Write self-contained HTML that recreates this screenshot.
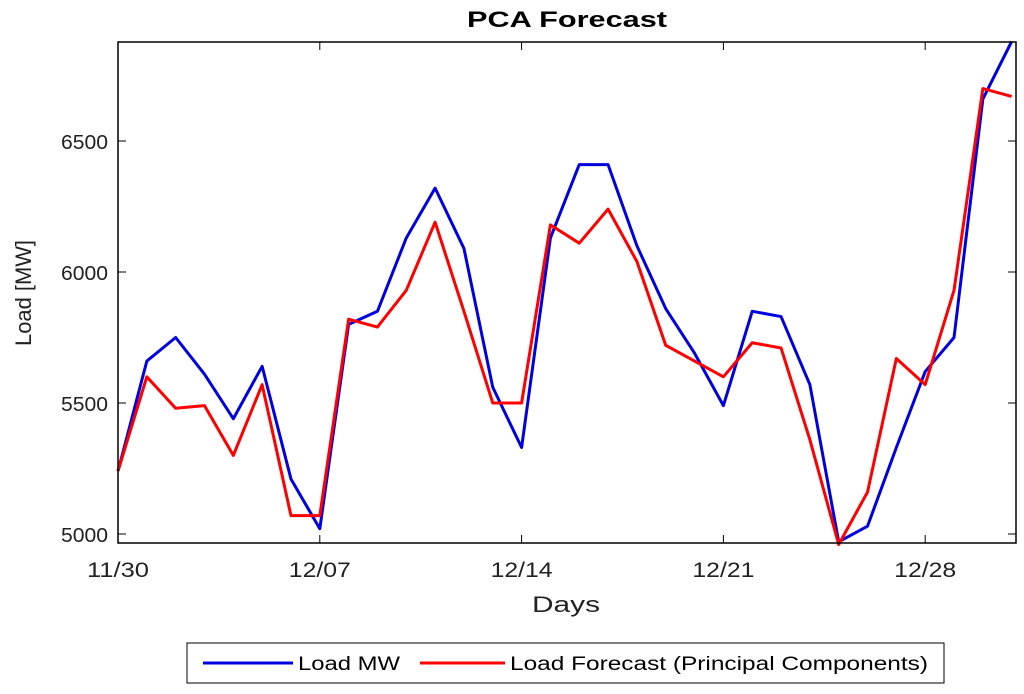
<!DOCTYPE html>
<html><head><meta charset="utf-8"><style>
body{margin:0;background:#fff;}
svg{display:block;font-family:"Liberation Sans",sans-serif;}
</style></head><body>
<svg id="chart" width="1024" height="694" viewBox="0 0 1024 694">
<text x="567" y="27" text-anchor="middle" font-size="22" font-weight="bold" textLength="200" lengthAdjust="spacingAndGlyphs">PCA Forecast</text>
<g id="grid"></g>
<g id="series"></g>
<rect x="118" y="42" width="898" height="501" fill="none" stroke="#000" stroke-width="1.5"/>
<text x="566" y="612" text-anchor="middle" font-size="22" fill="#222" textLength="68" lengthAdjust="spacingAndGlyphs">Days</text>
<text transform="translate(31,293) rotate(-90)" text-anchor="middle" font-size="22" fill="#222" textLength="106" lengthAdjust="spacingAndGlyphs">Load [MW]</text>
<g>
<rect x="187" y="643" width="757" height="40" fill="#fff" stroke="#000" stroke-width="1"/>
<line x1="203" y1="663" x2="293" y2="663" stroke="#0000e0" stroke-width="3"/>
<text x="298" y="670" font-size="19" textLength="102" lengthAdjust="spacingAndGlyphs">Load MW</text>
<line x1="420" y1="663" x2="505" y2="663" stroke="#ff0000" stroke-width="3"/>
<text x="510" y="670" font-size="19" textLength="418" lengthAdjust="spacingAndGlyphs">Load Forecast (Principal Components)</text>
</g>
</svg>
<script>
const xTickDays=[0,7,14,21,28];
const xTickLabels=["11/30","12/07","12/14","12/21","12/28"];
const yTicks=[5000,5500,6000,6500];
const loadMW=[5240,5660,5750,5610,5440,5640,5210,5020,5800,5850,6130,6320,6090,5560,5330,6130,6410,6410,6100,5860,5690,5490,5850,5830,5570,4970,5030,5330,5620,5750,6660,6880];
const forecast=[5240,5600,5480,5490,5300,5570,5070,5070,5820,5790,5930,6190,5850,5500,5500,6180,6110,6240,6040,5720,5660,5600,5730,5710,5360,4960,5160,5670,5570,5930,6700,6670];
const L=118,R=1016,T=42,B=543;
const x=d=>L+d*(R-L)/31.15;
const y=v=>141+(6500-v)*131/500;
const NS="http://www.w3.org/2000/svg";
const g=document.getElementById('grid'),s=document.getElementById('series');
function mk(tag,attrs,parent){const e=document.createElementNS(NS,tag);for(const k in attrs)e.setAttribute(k,attrs[k]);parent.appendChild(e);return e;}
xTickDays.forEach((d,i)=>{
 const t=mk('line',{x1:x(d),x2:x(d),y1:B,y2:B-8,stroke:'#000'},g);
 
 
 const t2=mk('line',{x1:x(d),x2:x(d),y1:T,y2:T+8,stroke:'#000'},g);
 
 
 const tx=mk('text',{x:x(d),y:577,'text-anchor':'middle','font-size':21,fill:'#222',textLength:62,lengthAdjust:'spacingAndGlyphs'},g);
 tx.textContent=xTickLabels[i];
 
 
});
yTicks.forEach(v=>{
 const t=mk('line',{x1:L,x2:L+8,y1:y(v),y2:y(v),stroke:'#000'},g);
 
 
 const t2=mk('line',{x1:R,x2:R-8,y1:y(v),y2:y(v),stroke:'#000'},g);
 
 
 const tx=mk('text',{x:108,y:y(v)+8,'text-anchor':'end','font-size':20,fill:'#222',textLength:47,lengthAdjust:'spacingAndGlyphs'},g);
 tx.textContent=v;
 
 
});
function line(data,color,name){
 const p=mk('polyline',{points:data.map((v,i)=>x(i)+','+y(v)).join(' '),fill:'none',stroke:color,'stroke-width':3,'stroke-linejoin':'round'},s);
 
 
}
line(loadMW,'#0000e0','load-mw-line');
line(forecast,'#ff0000','forecast-line');
</script>
</body></html>
